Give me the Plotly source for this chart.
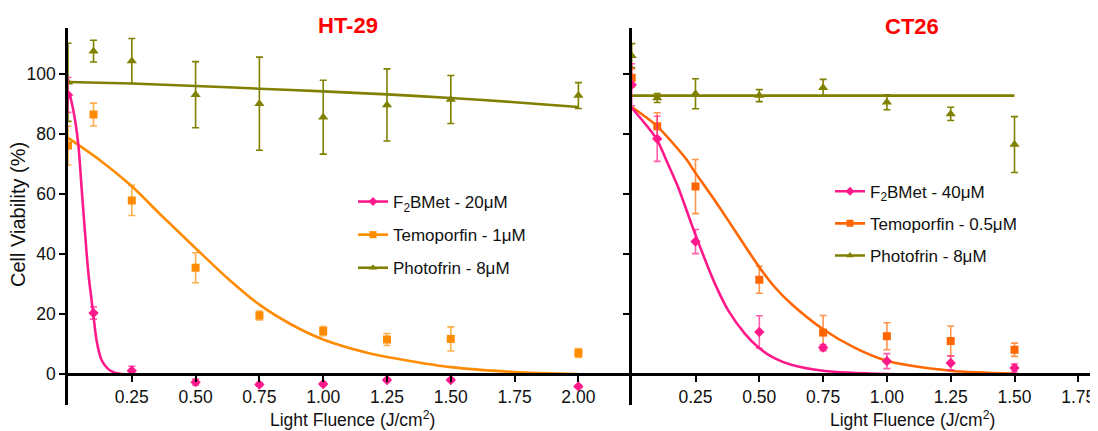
import plotly.graph_objects as go

# ---------------- data ----------------
x_ht = [0, 0.1, 0.25, 0.5, 0.75, 1.0, 1.25, 1.5, 2.0]
ht_f2b_y = [93.0, 20.4, 1.2, -2.6, -3.4, -3.2, -1.9, -1.9, -4.0]
ht_f2b_err = [5.8, 2.0, 1.5, 1.0, 0.5, 0.5, 0.5, 0.5, 0.5]
ht_tem_y = [76.2, 86.5, 57.9, 35.5, 19.6, 14.4, 11.6, 11.8, 7.1]
ht_tem_err = [6.5, 3.8, 5.0, 5.0, 1.5, 1.5, 2.0, 4.0, 1.5]
ht_pho_y = [97.2, 107.6, 104.3, 93.1, 90.1, 85.6, 89.7, 91.5, 92.8]
ht_pho_err = [13.0, 3.6, 7.5, 11.0, 15.5, 12.3, 12.0, 8.0, 4.3]

x_ct = [0, 0.1, 0.25, 0.5, 0.75, 1.0, 1.25, 1.5]
ct_f2b_y = [96.4, 78.4, 44.2, 14.1, 8.9, 4.4, 3.8, 2.1]
ct_f2b_err = [7.0, 7.5, 4.0, 5.4, 1.0, 2.5, 2.3, 1.3]
ct_tem_y = [98.7, 82.6, 62.5, 31.5, 13.9, 12.7, 11.1, 8.2]
ct_tem_err = [3.0, 4.5, 9.0, 4.5, 5.7, 4.5, 5.0, 2.2]
ct_pho_y = [106.1, 92.0, 93.4, 92.8, 95.4, 90.6, 86.7, 76.5]
ct_pho_err = [4.0, 1.5, 5.0, 2.0, 2.8, 2.5, 2.2, 9.3]

# fitted curves
fit_ht_f2b_x = [0, 0.005, 0.021, 0.04, 0.054, 0.067, 0.08, 0.099, 0.112, 0.132, 0.165, 0.204, 0.25, 2.0]
fit_ht_f2b_y = [93.5, 93.3, 87.8, 76.8, 61.2, 46.8, 33.5, 20.2, 11.3, 4.7, 1.3, 0.2, 0.0, 0.0]
fit_ht_tem_x = [0, 0.125, 0.25, 0.36, 0.5, 0.625, 0.75, 0.875, 1.0, 1.18, 1.25, 1.5, 1.75, 2.0]
fit_ht_tem_y = [78.7, 71.3, 62.6, 53.4, 42.0, 32.0, 23.2, 16.6, 11.6, 7.0, 5.8, 2.4, 0.8, 0.1]
fit_ht_pho_x = [0, 0.25, 0.5, 0.75, 1.0, 1.25, 1.5, 1.75, 2.0]
fit_ht_pho_y = [97.3, 96.8, 96.0, 95.1, 94.2, 93.2, 92.0, 90.6, 89.0]

fit_ct_f2b_x = [0, 0.097, 0.136, 0.182, 0.234, 0.273, 0.326, 0.378, 0.444, 0.496, 0.561, 0.625, 0.75, 1.0, 1.5]
fit_ct_f2b_y = [88.7, 78.4, 71.2, 62.3, 50.1, 41.3, 30.2, 21.3, 13.5, 9.0, 5.3, 3.2, 1.2, 0.1, 0.0]
fit_ct_tem_x = [0, 0.097, 0.215, 0.247, 0.326, 0.404, 0.5, 0.561, 0.625, 0.75, 0.875, 1.0, 1.25, 1.5]
fit_ct_tem_y = [89.0, 82.8, 71.5, 67.4, 57.9, 47.9, 35.7, 29.0, 23.5, 15.0, 8.8, 4.5, 1.2, 0.3]
fit_ct_pho_x = [0, 0.5, 1.0, 1.5]
fit_ct_pho_y = [92.8, 92.8, 92.8, 92.8]

ht_ticks = [0.25, 0.5, 0.75, 1.0, 1.25, 1.5, 1.75, 2.0]
ct_ticks = [0.25, 0.5, 0.75, 1.0, 1.25, 1.5, 1.75]
y_ticks = [0, 20, 40, 60, 80, 100]

ht_names = ["F<sub>2</sub>BMet - 20μM", "Temoporfin - 1μM", "Photofrin - 8μM"]
ct_names = ["F<sub>2</sub>BMet - 40μM", "Temoporfin - 0.5μM", "Photofrin - 8μM"]

# ---------------- styling ----------------
WIN_W, WIN_H = 1098, 431
OFF = 8                      # page body margin
W, H = WIN_W - OFF, WIN_H - OFF
FONT = "Arial, Liberation Sans, sans-serif"
PINK = "#FF1A8C"
PINK_E = "rgba(255,26,140,0.7)"
ORG1 = "#FF8C00"
ORG1_E = "rgba(255,140,0,0.7)"
ORG2 = "#FF6600"
ORG2_E = "rgba(255,102,0,0.7)"
OLIVE = "#808000"
TXT = "#111111"


def px(p):
    """window x pixel -> paper fraction"""
    return (p - OFF) / W


def py(p):
    """window y pixel -> paper fraction"""
    return (WIN_H - p) / H


fig = go.Figure()


def add_points(x, y, err, color, ecolor, symbol, size, xa, ya):
    fig.add_trace(go.Scatter(
        x=x, y=y, mode="markers", xaxis=xa, yaxis=ya, showlegend=False,
        marker=dict(color=color, symbol=symbol, size=size, line=dict(width=0)),
        error_y=dict(type="data", array=err, visible=True, color=ecolor,
                     thickness=1.6, width=3.5)))


def add_fit(x, y, color, xa, ya):
    fig.add_trace(go.Scatter(
        x=x, y=y, mode="lines", xaxis=xa, yaxis=ya, showlegend=False,
        line=dict(color=color, width=2.6, shape="spline", smoothing=0.8)))


def add_legend(name, color, symbol, size, legend, group):
    fig.add_trace(go.Scatter(
        x=[None], y=[None], mode="lines+markers", name=name, legend=legend,
        legendgroup=group, xaxis="x", yaxis="y",
        line=dict(color=color, width=2.6),
        marker=dict(color=color, symbol=symbol, size=size)))


# HT-29
add_fit(fit_ht_pho_x, fit_ht_pho_y, OLIVE, "x", "y")
add_fit(fit_ht_tem_x, fit_ht_tem_y, ORG1, "x", "y")
add_fit(fit_ht_f2b_x, fit_ht_f2b_y, PINK, "x", "y")
add_points(x_ht, ht_pho_y, ht_pho_err, OLIVE, OLIVE, "triangle-up", 9, "x", "y")
add_points(x_ht, ht_tem_y, ht_tem_err, ORG1, ORG1_E, "square", 8, "x", "y")
add_points(x_ht, ht_f2b_y, ht_f2b_err, PINK, PINK_E, "diamond", 8, "x", "y")

# CT26
add_fit(fit_ct_pho_x, fit_ct_pho_y, OLIVE, "x2", "y2")
add_fit(fit_ct_tem_x, fit_ct_tem_y, ORG2, "x2", "y2")
add_fit(fit_ct_f2b_x, fit_ct_f2b_y, PINK, "x2", "y2")
add_points(x_ct, ct_pho_y, ct_pho_err, OLIVE, OLIVE, "triangle-up", 9, "x2", "y2")
add_points(x_ct, ct_tem_y, ct_tem_err, ORG2, ORG2_E, "square", 8, "x2", "y2")
add_points(x_ct, ct_f2b_y, ct_f2b_err, PINK, PINK_E, "diamond", 8, "x2", "y2")

# legends
add_legend(ht_names[0], PINK, "diamond", 7, "legend", "a1")
add_legend(ht_names[1], ORG1, "square", 7, "legend", "a2")
add_legend(ht_names[2], OLIVE, "triangle-up", 7, "legend", "a3")
add_legend(ct_names[0], PINK, "diamond", 7, "legend2", "b1")
add_legend(ct_names[1], ORG2, "square", 7, "legend2", "b2")
add_legend(ct_names[2], OLIVE, "triangle-up", 7, "legend2", "b3")

# ---------------- geometry (window pixels) ----------------
px_per_unit = 255.2
x0_left, x0_right = 68.0, 631.7
y_top_px, y_bot_px = 28.3, 405.0
y_lo, y_hi = -10.2, 115.2
yd0, yd1 = py(y_bot_px), py(y_top_px)
xaxis_pos = yd0 + (yd1 - yd0) * (0 - y_lo) / (y_hi - y_lo)

tickfont = dict(family=FONT, size=17.5, color=TXT)
common_x = dict(showline=True, linecolor="black", linewidth=2.5, ticks="outside",
                ticklen=6, tickwidth=2, tickcolor="black", showgrid=False,
                zeroline=False, tickformat=".2f", tickfont=tickfont,
                anchor="free", position=xaxis_pos)
common_y = dict(showline=True, linecolor="black", linewidth=2.5, ticks="outside",
                ticklen=6, tickwidth=2, tickcolor="black", showgrid=False,
                zeroline=False, range=[y_lo, y_hi], domain=[yd0, yd1],
                tickvals=y_ticks, tickfont=tickfont)

fig.update_layout(
    width=W, height=H, margin=dict(l=0, r=0, t=0, b=0),
    paper_bgcolor="white", plot_bgcolor="white",
    font=dict(family=FONT, size=17, color=TXT),
    xaxis=dict(domain=[px(x0_left), px(x0_right)],
               range=[0, (x0_right - x0_left) / px_per_unit],
               tickvals=ht_ticks, **common_x),
    xaxis2=dict(domain=[px(x0_right), 1.0],
                range=[0, (WIN_W - x0_right) / px_per_unit],
                tickvals=ct_ticks, **common_x),
    yaxis=dict(anchor="x", **common_y),
    yaxis2=dict(anchor="x2", matches="y", showticklabels=False, **common_y),
    legend=dict(x=px(353), y=py(184), xanchor="left", yanchor="top",
                bgcolor="rgba(0,0,0,0)", tracegroupgap=8,
                font=dict(family=FONT, size=17, color=TXT)),
    legend2=dict(x=px(830), y=py(173.7), xanchor="left", yanchor="top",
                 bgcolor="rgba(0,0,0,0)", tracegroupgap=7,
                 font=dict(family=FONT, size=17, color=TXT)),
    annotations=[
        dict(text="<b>HT-29</b>", x=px(348), y=py(26), xref="paper", yref="paper",
             showarrow=False, xanchor="center", yanchor="middle",
             font=dict(family=FONT, size=22, color="#FF0000")),
        dict(text="<b>CT26</b>", x=px(911.5), y=py(27), xref="paper", yref="paper",
             showarrow=False, xanchor="center", yanchor="middle",
             font=dict(family=FONT, size=22, color="#FF0000")),
        dict(text="Cell Viability (%)", x=px(18), y=py(215), xref="paper", yref="paper",
             showarrow=False, xanchor="center", yanchor="middle", textangle=-90,
             font=dict(family=FONT, size=20, color=TXT)),
        dict(text="Light Fluence (J/cm<sup>2</sup>)", x=px(352), y=py(419),
             xref="paper", yref="paper", showarrow=False, xanchor="center", yanchor="middle",
             font=dict(family=FONT, size=17.5, color=TXT)),
        dict(text="Light Fluence (J/cm<sup>2</sup>)", x=px(912), y=py(419),
             xref="paper", yref="paper", showarrow=False, xanchor="center", yanchor="middle",
             font=dict(family=FONT, size=17.5, color=TXT)),
    ],
)

fig.write_html("out.html")
